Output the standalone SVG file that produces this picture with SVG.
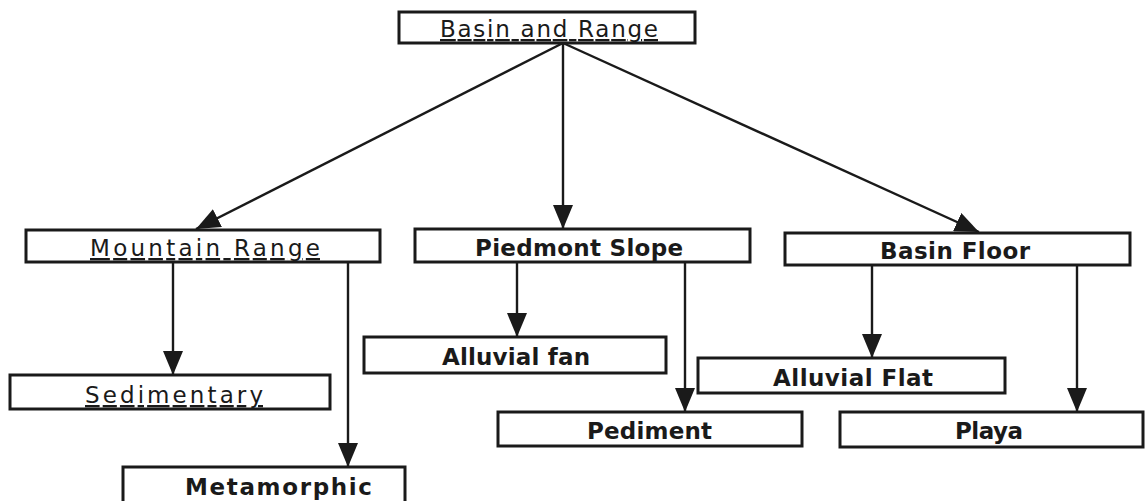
<svg xmlns="http://www.w3.org/2000/svg" width="1145" height="501" viewBox="0 0 1145 501">
<style>
.box{fill:#fff;stroke:#1a1a1a;stroke-width:3}
.t{font-family:"DejaVu Sans",sans-serif;font-size:23px;fill:#1a1a1a;text-anchor:start}
.b{font-weight:bold}
.u{text-decoration:underline}
.c{stroke:#1a1a1a;stroke-width:2.4;fill:none}
</style>
<defs>
<marker id="ad" viewBox="0 0 24 20" refX="24" refY="10" markerWidth="24" markerHeight="20" markerUnits="userSpaceOnUse" orient="auto">
<path d="M0,0 L24,10 L0,20 Z" fill="#1a1a1a"/>
</marker>
</defs>
<rect width="1145" height="501" fill="#fff"/>
<g id="connectors">
<line class="c" x1="563" y1="43" x2="196" y2="229" marker-end="url(#ad)"/>
<line class="c" x1="563" y1="43" x2="563" y2="229" marker-end="url(#ad)"/>
<line class="c" x1="563" y1="43" x2="979" y2="232" marker-end="url(#ad)"/>
<line class="c" x1="173" y1="262" x2="173" y2="375" marker-end="url(#ad)"/>
<line class="c" x1="348" y1="262" x2="348" y2="467" marker-end="url(#ad)"/>
<line class="c" x1="517" y1="262" x2="517" y2="337" marker-end="url(#ad)"/>
<line class="c" x1="685" y1="262" x2="685" y2="412" marker-end="url(#ad)"/>
<line class="c" x1="872" y1="265" x2="872" y2="358" marker-end="url(#ad)"/>
<line class="c" x1="1077" y1="265" x2="1077" y2="412" marker-end="url(#ad)"/>
</g>
<g id="basin-and-range">
<rect class="box" x="399" y="12" width="296" height="31"/>
<text class="t u" x="440" y="37" textLength="218">Basin and Range</text>
</g>
<g id="mountain-range">
<rect class="box" x="26" y="230" width="354" height="32"/>
<text class="t u" x="90" y="256" textLength="230">Mountain Range</text>
</g>
<g id="piedmont-slope">
<rect class="box" x="415" y="229" width="335" height="33"/>
<text class="t b" x="475" y="256" textLength="208">Piedmont Slope</text>
</g>
<g id="basin-floor">
<rect class="box" x="785" y="233" width="345" height="32"/>
<text class="t b" x="880" y="259" textLength="150">Basin Floor</text>
</g>
<g id="sedimentary">
<rect class="box" x="10" y="375" width="320" height="34"/>
<text class="t u" x="85" y="403" textLength="178">Sedimentary</text>
</g>
<g id="metamorphic">
<rect class="box" x="123" y="467" width="282" height="36"/>
<text class="t b" x="185" y="495" textLength="187">Metamorphic</text>
</g>
<g id="alluvial-fan">
<rect class="box" x="364" y="337" width="302" height="36"/>
<text class="t b" x="442" y="365" textLength="148">Alluvial fan</text>
</g>
<g id="pediment">
<rect class="box" x="498" y="412" width="304" height="34"/>
<text class="t b" x="587" y="439" textLength="125">Pediment</text>
</g>
<g id="alluvial-flat">
<rect class="box" x="698" y="358" width="307" height="35"/>
<text class="t b" x="773" y="386" textLength="160">Alluvial Flat</text>
</g>
<g id="playa">
<rect class="box" x="840" y="412" width="303" height="35"/>
<text class="t b" x="955" y="439" textLength="68">Playa</text>
</g>
</svg>
